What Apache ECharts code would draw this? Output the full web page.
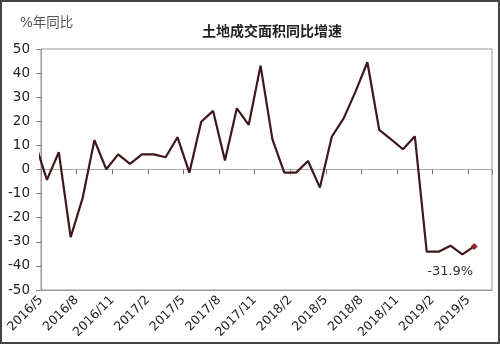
<!DOCTYPE html>
<html>
<head>
<meta charset="utf-8">
<script src="https://cdn.jsdelivr.net/npm/echarts@6/dist/echarts.min.js"></script>
<style>
html,body{margin:0;padding:0;background:#fff;}
#c{width:500px;height:344px;}
</style>
</head>
<body>
<div id="c"></div>
<script>
// Months of the series (first month is partly outside the plot, clipped at the axis)
var months = ['2016/4','2016/5','2016/6','2016/7','2016/8','2016/9','2016/10','2016/11','2016/12',
  '2017/1','2017/2','2017/3','2017/4','2017/5','2017/6','2017/7','2017/8','2017/9','2017/10','2017/11','2017/12',
  '2018/1','2018/2','2018/3','2018/4','2018/5','2018/6','2018/7','2018/8','2018/9','2018/10','2018/11','2018/12',
  '2019/1','2019/2','2019/3','2019/4','2019/5'];
// 土地成交面积同比增速 (%)
var values = [11, -4.3, 7.2, -28.1, -12, 12.2, 0.1, 6.3, 2.3,
  6.3, 6.3, 5.1, 13.4, -1.3, 19.8, 24.3, 3.7, 25.4, 18.5, 43.1, 12.5,
  -1.3, -1.3, 3.5, -7.5, 13.6, 21.2, 32.3, 44.5, 16.4, 12.5, 8.4, 13.8,
  -34.1, -34.1, -31.6, -35.2, -31.9];
var tickLabels = ['2016/5','2016/8','2016/11','2017/2','2017/5','2017/8','2017/11',
  '2018/2','2018/5','2018/8','2018/11','2019/2','2019/5'];
var yTicks = [-50,-40,-30,-20,-10,0,10,20,30,40,50];

var data = values.map(function(v, k){
  var item = {value: [k - 0.5, v]};
  if (k === values.length - 1) {
    item.symbol = 'diamond';
    item.symbolSize = 7;
    item.itemStyle = {color: '#8a2a2e'};
    item.label = {show: true, position: 'bottom', offset: [-24, 10],
      formatter: v.toFixed(1) + '%', fontFamily: 'DejaVu Sans', fontSize: 13, color: '#333'};
  }
  return item;
});

var chart = echarts.init(document.getElementById('c'), null, {renderer: 'canvas'});
var gridTop = 49, gridBottom = 54, H = 344;
var plotH = H - gridTop - gridBottom;
var zeroOffset = plotH * (yTicks[yTicks.length-1] / (yTicks[yTicks.length-1] - yTicks[0]));
var xBase = {type: 'value', min: 0, max: 38, interval: 3};
chart.setOption({
  animation: false,
  backgroundColor: '#fff',
  title: {
    text: '土地成交面积同比增速', left: 267, top: 19, textAlign: 'center',
    textStyle: {fontFamily: 'Noto Sans CJK SC', fontSize: 14, fontWeight: 'bold', color: '#222'}
  },
  graphic: [
    {type: 'text', left: 20, top: 17, style: {text: '%年同比', fontFamily: 'DejaVu Sans, Noto Sans CJK SC', fontSize: 13.5, fill: '#555'}},
    {type: 'rect', shape: {x: 1, y: 1, width: 498, height: 342}, style: {fill: 'none', stroke: '#444', lineWidth: 2}, z: 100}
  ],
  grid: {left: 41, right: 8, top: gridTop, bottom: gridBottom, show: true, borderColor: '#999', borderWidth: 1, backgroundColor: 'transparent'},
  xAxis: [
    Object.assign({}, xBase, {
      position: 'bottom',
      axisLine: {show: true, onZero: false, lineStyle: {color: '#999'}},
      axisTick: {show: false},
      splitLine: {show: false},
      axisLabel: {
        rotate: 45, margin: 8, fontFamily: 'DejaVu Sans', fontSize: 12.5, color: '#222',
        formatter: function(v){ return (v % 3 === 0 && tickLabels[v/3]) ? tickLabels[v/3] : ''; }
      }
    }),
    Object.assign({}, xBase, {
      position: 'top',
      offset: -zeroOffset,
      axisLine: {show: true, onZero: false, lineStyle: {color: '#aaa'}},
      axisTick: {show: true, inside: true, length: 5, lineStyle: {color: '#777', width: 1}},
      splitLine: {show: false},
      axisLabel: {show: false}
    })
  ],
  yAxis: {
    type: 'value', min: yTicks[0], max: yTicks[yTicks.length-1], interval: 10,
    axisLine: {show: true, onZero: false, lineStyle: {color: '#999'}},
    axisTick: {show: true, length: 5, lineStyle: {color: '#888'}},
    splitLine: {show: false},
    axisLabel: {fontFamily: 'DejaVu Sans', fontSize: 13.5, color: '#222', margin: 11}
  },
  series: [{
    type: 'line',
    xAxisIndex: 0,
    data: data,
    showSymbol: true,
    symbol: 'none',
    clip: true,
    lineStyle: {color: '#3e171c', width: 2.2},
    itemStyle: {color: '#3e171c'}
  }]
});
</script>
</body>
</html>
